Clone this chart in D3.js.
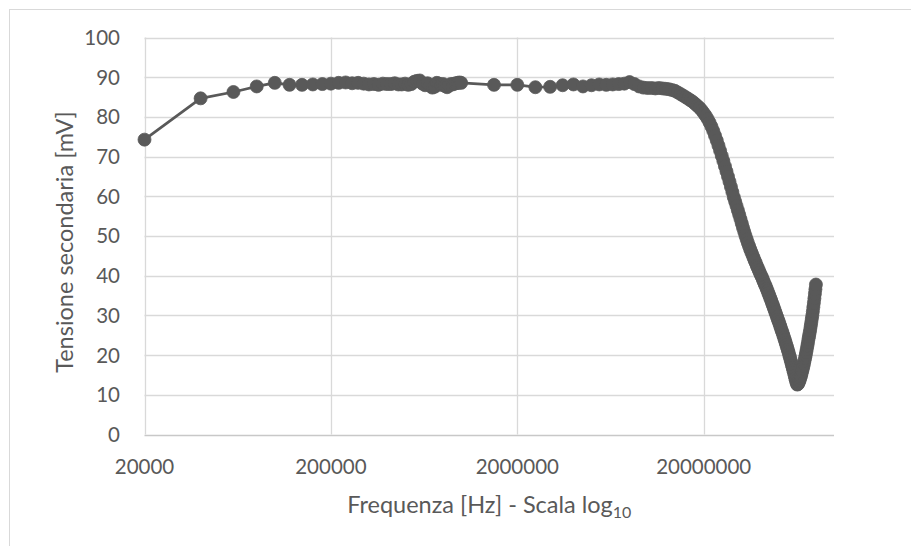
<!DOCTYPE html>
<html>
<head>
<meta charset="utf-8">
<script src="https://cdn.jsdelivr.net/npm/d3@7"></script>
<style>
  html, body { margin: 0; padding: 0; background: #ffffff; }
  svg { display: block; }
  text { font-family: Lato, "Open Sans", sans-serif; fill: #595959; }
</style>
</head>
<body>
<svg id="chart" width="911" height="546"></svg>
<script>
// Measured frequencies (kHz)
const freqKHz = [
  20, 40, 60, 80, 100, 120, 140, 160, 180, 200,
  220, 240, 260, 280, 300, 320, 340, 360, 380, 400,
  420, 440, 460, 480, 500, 520, 540, 560, 580, 600,
  620, 640, 660, 680, 700, 720, 740, 760, 780, 800,
  820, 840, 860, 880, 900, 920, 940, 960, 980, 1000,
  1500, 2000, 2500, 3000, 3500, 4000, 4500, 5000, 5500, 6000,
  6500, 7000, 7500, 8000, 8500, 9000, 9500,
  10000, 10500, 11000, 11500, 12000, 12500, 13000, 13500, 14000, 14500,
  15000, 15500, 16000, 16500, 17000, 17500, 18000, 18500, 19000, 19500,
  20000, 20500, 21000, 21500, 22000, 22500, 23000, 23500, 24000, 24500,
  25000, 25500, 26000, 26500, 27000, 27500, 28000, 28500, 29000, 29500,
  30000, 30500, 31000, 31500, 32000, 32500, 33000, 33500, 34000, 34500,
  35000, 35500, 36000, 36500, 37000, 37500, 38000, 38500, 39000, 39500,
  40000, 40500, 41000, 41500, 42000, 42500, 43000, 43500, 44000, 44500,
  45000, 45500, 46000, 46500, 47000, 47500, 48000, 48500, 49000, 49500,
  50000, 50500, 51000, 51500, 52000, 52500, 53000, 53500, 54000, 54500,
  55000, 55500, 56000, 56500, 57000, 57500, 58000, 58500, 59000, 59500,
  60000, 60500, 61000, 61500, 62000, 62500, 63000, 63500, 64000, 64500,
  65000, 65500, 66000, 66500, 67000, 67500, 68000, 68500, 69000, 69500,
  70000, 70500, 71000, 71500, 72000, 72500, 73000, 73500, 74000, 74500,
  75000, 75500, 76000, 76500, 77000, 77500, 78000, 78500, 79000, 79500,
  80000
];

// Secondary voltage (mV) at each frequency
const tensioneMV = [
  74.3, 84.7, 86.3, 87.7, 88.6, 88.1, 88.1, 88.2, 88.3, 88.4,
  88.6, 88.7, 88.5, 88.6, 88.4, 88.2, 88.3, 88.1, 88.4, 88.3,
  88.3, 88.5, 88.2, 88.2, 88.4, 88.1, 88.3, 88.9, 89.1, 89.2,
  88.4, 88.0, 88.5, 87.9, 87.4, 87.6, 88.6, 88.4, 88.1, 88.3,
  87.8, 87.5, 87.9, 88.3, 88.2, 88.4, 88.5, 88.6, 88.7, 88.6,
  88.1, 88.1, 87.5, 87.6, 88.0, 88.2, 87.7, 88.0, 88.2, 88.1,
  88.2, 88.3, 88.4, 88.8, 88.3, 87.7, 87.4,
  87.3, 87.3, 87.2, 87.3, 87.2, 87.1, 87.0, 86.8, 86.6, 86.2,
  85.8, 85.4, 85.0, 84.6, 84.2, 83.8, 83.3, 82.8, 82.3, 81.7,
  81.0, 80.3, 79.5, 78.6, 77.6, 76.5, 75.3, 74.1, 72.8, 71.5,
  70.2, 68.9, 67.6, 66.3, 65.0, 63.7, 62.4, 61.1, 59.8, 58.7,
  57.6, 56.5, 55.4, 54.3, 53.2, 52.1, 51.1, 50.1, 49.2, 48.3,
  47.5, 46.7, 46.0, 45.3, 44.6, 43.9, 43.3, 42.6, 42.0, 41.4,
  40.8, 40.2, 39.7, 39.1, 38.5, 37.9, 37.4, 36.8, 36.2, 35.6,
  35.0, 34.4, 33.8, 33.2, 32.6, 32.0, 31.4, 30.8, 30.2, 29.6,
  29.0, 28.5, 27.9, 27.3, 26.7, 26.1, 25.6, 25.0, 24.4, 23.8,
  23.2, 22.6, 22.0, 21.4, 20.8, 20.1, 19.5, 18.8, 18.2, 17.5,
  16.9, 16.2, 15.6, 14.9, 14.2, 13.6, 13.0, 12.6, 12.7, 13.0,
  13.4, 13.8, 14.3, 14.8, 15.4, 16.0, 16.6, 17.2, 17.9, 18.6,
  19.3, 20.0, 20.8, 21.6, 22.4, 23.2, 24.1, 24.8, 25.6, 26.4,
  27.3, 28.2, 29.1, 30.0, 31.0, 32.1, 33.2, 34.3, 35.5, 36.6,
  37.8
];

// Axis ticks
const xTicksHz = [20000, 200000, 2000000, 20000000];
const yTicks = [0, 10, 20, 30, 40, 50, 60, 70, 80, 90, 100];
const xDomainHz = [20000, 100000000];
const yDomain = [0, 100];

const xTitle = "Frequenza [Hz] - Scala log";
const xTitleSub = "10";
const yTitle = "Tensione secondaria [mV]";

const data = freqKHz.map((f, i) => ({ hz: f * 1000, mv: tensioneMV[i] }));

const svg = d3.select("#chart");
const W = 911, H = 546;
const plot = { left: 144.5, right: 834, top: 37.6, bottom: 434.6 };

const x = d3.scaleLog().domain(xDomainHz).range([plot.left, plot.right]);
const y = d3.scaleLinear().domain(yDomain).range([plot.bottom, plot.top]);

const ink = "#595959";
const gridColor = "#d9d9d9";

// Chart area frame
svg.append("rect")
  .attr("x", 9.5).attr("y", 9.5)
  .attr("width", W).attr("height", H)
  .attr("fill", "#ffffff")
  .attr("stroke", gridColor).attr("stroke-width", 1);

// Horizontal gridlines
svg.append("g")
  .selectAll("line")
  .data(yTicks.filter(d => d > 0))
  .join("line")
  .attr("x1", plot.left).attr("x2", plot.right)
  .attr("y1", d => Math.round(y(d)) + 0.5)
  .attr("y2", d => Math.round(y(d)) + 0.5)
  .attr("stroke", gridColor).attr("stroke-width", 1.3);

// Vertical gridlines
svg.append("g")
  .selectAll("line")
  .data(xTicksHz)
  .join("line")
  .attr("x1", d => Math.round(x(d)) + 0.5)
  .attr("x2", d => Math.round(x(d)) + 0.5)
  .attr("y1", plot.top).attr("y2", plot.bottom)
  .attr("stroke", gridColor).attr("stroke-width", 1.3);

// Category axis line at 0
svg.append("line")
  .attr("x1", plot.left).attr("x2", plot.right)
  .attr("y1", Math.round(y(0)) + 0.5).attr("y2", Math.round(y(0)) + 0.5)
  .attr("stroke", "#c8c8c8").attr("stroke-width", 1.5);

// Y tick labels
svg.append("g")
  .selectAll("text")
  .data(yTicks)
  .join("text")
  .attr("x", 120)
  .attr("y", d => y(d) + 7.3)
  .attr("text-anchor", "end")
  .attr("font-size", 20.5)
  .text(d => d);

// X tick labels
svg.append("g")
  .selectAll("text")
  .data(xTicksHz)
  .join("text")
  .attr("x", d => x(d))
  .attr("y", 473.5)
  .attr("text-anchor", "middle")
  .attr("font-size", 20.5)
  .text(d => d3.format("d")(d));

// Axis titles
const xt = svg.append("text")
  .attr("x", (plot.left + plot.right) / 2)
  .attr("y", 513)
  .attr("text-anchor", "middle")
  .attr("font-size", 23.5);
xt.append("tspan").text(xTitle);
xt.append("tspan").attr("font-size", 16).attr("dy", 5).text(xTitleSub);

svg.append("text")
  .attr("transform", `translate(73, 242) rotate(-90)`)
  .attr("text-anchor", "middle")
  .attr("font-size", 23.5)
  .text(yTitle);

// Series line
const line = d3.line()
  .x(d => x(d.hz))
  .y(d => y(d.mv));

svg.append("path")
  .datum(data)
  .attr("d", line)
  .attr("fill", "none")
  .attr("stroke", ink)
  .attr("stroke-width", 2.75)
  .attr("stroke-linejoin", "round");

// Markers
svg.append("g")
  .selectAll("circle")
  .data(data)
  .join("circle")
  .attr("cx", d => x(d.hz))
  .attr("cy", d => y(d.mv))
  .attr("r", 6.5)
  .attr("fill", ink)
  .attr("stroke", ink)
  .attr("stroke-width", 0.8);
</script>
</body>
</html>
